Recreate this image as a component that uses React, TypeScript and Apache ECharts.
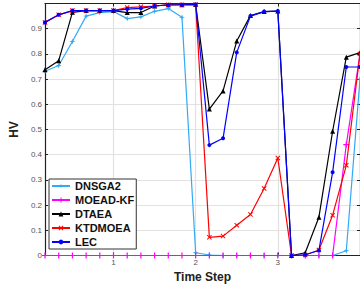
import React, { useEffect, useRef } from "react";
import * as echarts from "echarts";

const stepIndex = [1, 2, 3, 4, 5, 6, 7, 8, 9, 10, 11, 12, 13, 14, 15, 16, 17, 18, 19, 20, 21, 22, 23, 24];
const stepsPerUnit = 6;
const xTickValues = [1, 2, 3];

const dnsga2 = [0.731, 0.754, 0.849, 0.95, 0.964, 0.968, 0.94, 0.947, 0.969, 0.98, 0.945, 0.011, 0.002, 0, 0, 0, 0, 0, 0, 0, 0, 0, 0.019, 0.7];
const moeadKf = [0, 0, 0, 0, 0, 0, 0, 0, 0, 0, 0, 0, 0, 0, 0, 0, 0, 0, 0, 0, 0, 0, 0.44, 0.8];
const dtaea = [0.737, 0.773, 0.965, 0.972, 0.972, 0.972, 0.964, 0.964, 0.99, 0.995, 0.995, 0.996, 0.581, 0.653, 0.851, 0.952, 0.968, 0.97, 0, 0.011, 0.152, 0.493, 0.787, 0.805];
const ktdmoea = [0.925, 0.955, 0.972, 0.972, 0.972, 0.972, 0.984, 0.987, 0.99, 0.995, 0.995, 0.996, 0.072, 0.077, 0.12, 0.163, 0.266, 0.387, 0, 0.002, 0.022, 0.16, 0.358, 0.8];
const lec = [0.925, 0.955, 0.972, 0.972, 0.972, 0.972, 0.978, 0.981, 0.99, 0.994, 0.995, 0.996, 0.438, 0.465, 0.806, 0.95, 0.968, 0.97, 0, 0.003, 0.02, 0.33, 0.748, 0.748];

const seriesNames = ["DNSGA2", "MOEAD-KF", "DTAEA", "KTDMOEA", "LEC"];
const seriesValues = [dnsga2, moeadKf, dtaea, ktdmoea, lec];
const seriesColors = ["#33aaf5", "#ff00ff", "#000000", "#ff0000", "#0000ff"];

const starPath = "path://M5,0L6.2,3.8L10,5L6.2,6.2L5,10L3.8,6.2L0,5L3.8,3.8Z";
const plusPath = "path://M4,0H6V4H10V6H6V10H4V6H0V4H4Z";
const crossPath = "path://M1.4,0L5,3.6L8.6,0L10,1.4L6.4,5L10,8.6L8.6,10L5,6.4L1.4,10L0,8.6L3.6,5L0,1.4Z";
const seriesSymbols = [starPath, plusPath, "triangle", crossPath, "circle"];
const seriesSymbolSizes = [6, 6, 5, 5, 4];

const FONT = "Arial, 'Liberation Sans', Helvetica, sans-serif";

export default function App() {
  const ref = useRef<HTMLDivElement>(null);
  useEffect(() => {
    if (!ref.current) return;
    const chart = echarts.init(ref.current, null, { renderer: "svg" });
    const xMin = stepIndex[0] / stepsPerUnit;
    const xMax = 4;
    const gridLine = { show: true, lineStyle: { color: "#e2e2e2", width: 1.2 } };
    const axisLine = { show: true, onZero: false, lineStyle: { color: "#222", width: 1.2 } };
    chart.setOption({
      animation: false,
      backgroundColor: "#fff",
      textStyle: { fontFamily: FONT },
      grid: { left: 44, top: 3.5, width: 319, height: 252, containLabel: false },
      legend: {
        left: 49,
        top: 179,
        orient: "vertical",
        backgroundColor: "#fff",
        borderColor: "#333",
        borderWidth: 1,
        padding: [0, 2, 0, 2],
        itemGap: 0,
        itemWidth: 18,
        itemHeight: 6,
        data: seriesNames,
        textStyle: { fontFamily: FONT, fontSize: 11, fontWeight: "bold", color: "#111", lineHeight: 14 },
      },
      xAxis: [
        {
          type: "value",
          min: xMin,
          max: xMax,
          position: "bottom",
          axisLine,
          axisTick: { show: true, inside: true, length: 3, customValues: xTickValues, lineStyle: { color: "#222" } },
          axisLabel: { show: true, customValues: xTickValues, color: "#555", fontSize: 8, margin: 3, fontFamily: FONT },
          splitLine: gridLine,
          name: "Time Step",
          nameLocation: "middle",
          nameGap: 13,
          nameTextStyle: { fontFamily: FONT, fontSize: 12, fontWeight: "bold", color: "#222" },
        },
        {
          type: "value",
          min: xMin,
          max: xMax,
          position: "top",
          axisLine,
          axisTick: { show: true, inside: true, length: 3, customValues: xTickValues, lineStyle: { color: "#222" } },
          axisLabel: { show: false },
          splitLine: { show: false },
        },
      ],
      yAxis: [
        {
          type: "value",
          min: 0,
          max: 1,
          interval: 0.1,
          position: "left",
          axisLine,
          axisTick: { show: true, inside: true, length: 3, lineStyle: { color: "#222" } },
          axisLabel: { color: "#555", fontSize: 8, margin: 3, showMaxLabel: false, fontFamily: FONT },
          splitLine: gridLine,
          name: "HV",
          nameLocation: "middle",
          nameGap: 16,
          nameTextStyle: { fontFamily: FONT, fontSize: 12, fontWeight: "bold", color: "#222" },
        },
        {
          type: "value",
          min: 0,
          max: 1,
          interval: 0.1,
          position: "right",
          axisLine,
          axisTick: { show: true, inside: true, length: 3, lineStyle: { color: "#222" } },
          axisLabel: { show: false },
          splitLine: { show: false },
        },
      ],
      series: seriesNames.map((name, si) => ({
        name,
        type: "line",
        xAxisIndex: 0,
        yAxisIndex: 0,
        data: seriesValues[si].map((v, i) => [stepIndex[i] / stepsPerUnit, v]),
        symbol: seriesSymbols[si],
        symbolSize: seriesSymbolSizes[si],
        showSymbol: true,
        color: seriesColors[si],
        lineStyle: { color: seriesColors[si], width: 1.2 },
        itemStyle: { color: seriesColors[si] },
        clip: true,
        z: 2 + si,
      })),
    });
    return () => chart.dispose();
  }, []);
  return <div ref={ref} style={{ width: 360, height: 291, position: "absolute", left: 0, top: 0 }} />;
}
